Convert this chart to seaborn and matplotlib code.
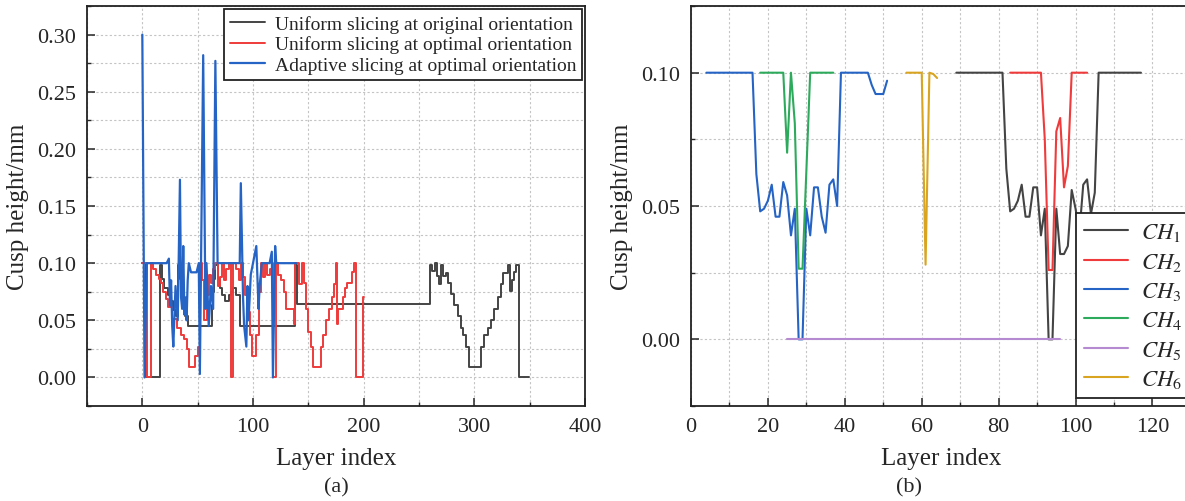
import numpy as np
import pandas as pd
import matplotlib
matplotlib.use('Agg')
import matplotlib.pyplot as plt
from matplotlib.ticker import MultipleLocator
import seaborn as sns

# ---- (a) cusp height per layer, three slicing strategies ----
# uniform slicing at original orientation (stepwise, change points)
orig_layer = [0, 3, 16, 18, 20, 23, 26, 28, 30, 32, 34, 35, 37, 39, 41, 63, 64, 65, 66, 68,
              70, 72, 75, 78, 80, 82, 85, 88, 138, 140, 260, 262, 264, 266, 268, 270, 272,
              274, 276, 279, 282, 285, 288, 290, 292, 295, 306, 309, 312, 315, 318, 321,
              324, 326, 328, 330, 332, 334, 336, 338, 340, 349]
orig_cusp = [0.10, 0.0, 0.098, 0.086, 0.078, 0.072, 0.067, 0.059, 0.054, 0.098, 0.086, 0.072,
             0.063, 0.054, 0.045, 0.063, 0.075, 0.086, 0.098, 0.086, 0.078, 0.072, 0.067,
             0.072, 0.075, 0.078, 0.072, 0.045, 0.098, 0.064, 0.098, 0.093, 0.10, 0.089,
             0.082, 0.098, 0.089, 0.091, 0.083, 0.073, 0.063, 0.054, 0.043, 0.037, 0.027,
             0.0093, 0.027, 0.037, 0.043, 0.050, 0.060, 0.070, 0.082, 0.091, 0.091, 0.098,
             0.076, 0.085, 0.092, 0.098, 0.0, 0.0]

# uniform slicing at optimal orientation (stepwise, change points)
opt_layer = [0, 4, 8, 10, 12, 15, 17, 19, 21, 23, 27, 31, 35, 38, 40, 42, 48, 50, 52, 54, 56,
             58, 60, 62, 64, 66, 68, 70, 72, 74, 76, 78, 80, 82, 85, 87, 89, 91, 93, 95, 97,
             99, 103, 105, 107, 109, 111, 113, 115, 117, 118, 121, 123, 125, 128, 130, 137,
             138, 142, 144, 146, 148, 150, 152, 154, 161, 163, 166, 169, 171, 173, 175, 176,
             177, 181, 183, 185, 189, 191, 193, 199, 200]
opt_cusp = [0.10, 0.0, 0.10, 0.095, 0.09, 0.086, 0.083, 0.075, 0.069, 0.062, 0.051, 0.043,
            0.037, 0.034, 0.025, 0.0093, 0.019, 0.027, 0.10, 0.085, 0.05, 0.072, 0.09, 0.083,
            0.095, 0.10, 0.08, 0.088, 0.10, 0.085, 0.095, 0.10, 0.0, 0.10, 0.095, 0.085, 0.10,
            0.088, 0.072, 0.057, 0.037, 0.019, 0.037, 0.075, 0.10, 0.088, 0.10, 0.09, 0.095,
            0.10, 0.0, 0.10, 0.09, 0.085, 0.075, 0.06, 0.047, 0.10, 0.082, 0.10, 0.083, 0.06,
            0.04, 0.027, 0.0093, 0.027, 0.037, 0.05, 0.06, 0.07, 0.082, 0.10, 0.047, 0.06,
            0.07, 0.078, 0.083, 0.092, 0.10, 0.0, 0.07, 0.07]

# adaptive slicing at optimal orientation
adp_layer = [0, 2, 4, 22, 24, 25, 26, 27, 28, 30, 32, 34, 35, 36, 37, 38, 39, 40, 41, 42, 44,
             49, 51, 52, 55, 57, 58, 60, 62, 64, 66, 68, 88, 89, 91, 92, 94, 95, 96, 98, 100,
             103, 105, 106, 108, 115, 117, 118, 120, 121, 139]
adp_cusp = [0.30, 0.0, 0.10, 0.10, 0.104, 0.063, 0.085, 0.045, 0.027, 0.08, 0.05, 0.173, 0.07,
            0.06, 0.115, 0.055, 0.07, 0.05, 0.085, 0.10, 0.092, 0.092, 0.10, 0.003, 0.282,
            0.06, 0.10, 0.045, 0.08, 0.06, 0.277, 0.10, 0.10, 0.17, 0.07, 0.045, 0.027, 0.08,
            0.05, 0.09, 0.10, 0.115, 0.06, 0.08, 0.10, 0.10, 0.11, 0.0, 0.115, 0.10, 0.10]

labels_a = ['Uniform slicing at original orientation',
            'Uniform slicing at optimal orientation',
            'Adaptive slicing at optimal orientation']

# ---- (b) cusp height of the six channels ----
ch1_layer = [69, 81, 82, 83, 84, 85, 86, 87, 88, 89, 90, 91, 92, 93, 94, 95, 96, 97, 98, 99,
             100, 101, 102, 103, 104, 105, 106, 117]
ch1_cusp = [0.10, 0.10, 0.064, 0.048, 0.049, 0.052, 0.058, 0.046, 0.046, 0.057, 0.057, 0.039,
            0.049, 0.0, 0.0, 0.049, 0.032, 0.032, 0.035, 0.056, 0.049, 0.040, 0.058, 0.060,
            0.047, 0.055, 0.10, 0.10]
ch2_layer = [83, 91, 92, 93, 94, 95, 96, 97, 98, 99, 103]
ch2_cusp = [0.10, 0.10, 0.075, 0.026, 0.026, 0.078, 0.083, 0.057, 0.065, 0.10, 0.10]
ch3_layer = [4, 16, 17, 18, 19, 20, 21, 22, 23, 24, 25, 26, 27, 28, 29, 30, 31, 32, 33, 34,
             35, 36, 37, 38, 39, 46, 47, 48, 50, 51]
ch3_cusp = [0.10, 0.10, 0.062, 0.048, 0.049, 0.052, 0.058, 0.046, 0.046, 0.059, 0.054, 0.039,
            0.049, 0.0, 0.0, 0.049, 0.039, 0.057, 0.057, 0.046, 0.040, 0.058, 0.060, 0.050,
            0.10, 0.10, 0.0954, 0.092, 0.092, 0.097]
ch4_layer = [18, 24, 25, 26, 27, 28, 29, 30, 31, 37]
ch4_cusp = [0.10, 0.10, 0.070, 0.10, 0.081, 0.0265, 0.0265, 0.063, 0.10, 0.10]
ch5_layer = [25, 96]
ch5_cusp = [0.0, 0.0]
ch6_layer = [56, 60, 61, 62, 63, 64]
ch6_cusp = [0.10, 0.10, 0.028, 0.10, 0.0995, 0.098]

colors_a = ['#444444', '#ef3b3b', '#2563c4']
colors_b = ['#444444', '#ef3b3b', '#2563c4', '#2eaa5c', '#b58ad0', '#d9a520']

sns.set_style('ticks')
plt.rcParams['font.family'] = ['Liberation Serif', 'DejaVu Serif']
plt.rcParams['mathtext.fontset'] = 'stix'

fig = plt.figure(figsize=(11.85, 5.02), dpi=100)
ax1 = fig.add_axes([0.0734, 0.1892, 0.4203, 0.7968])
ax2 = fig.add_axes([0.5831, 0.1892, 0.4219, 0.7968])


def style_axes(ax):
    ax.grid(which='both', color='#c4c4c4', linestyle=(0, (2, 2)), linewidth=0.8)
    ax.set_axisbelow(True)
    ax.tick_params(which='major', direction='in', length=6, width=1.1, labelsize=16,
                   top=False, right=False, pad=8)
    ax.tick_params(which='minor', direction='in', length=3, width=1.0, top=False, right=False)
    for s in ax.spines.values():
        s.set_linewidth(1.3)
        s.set_color('#222222')
    ax.set_xlabel('Layer index', fontsize=18, labelpad=8)
    ax.set_ylabel('Cusp height/mm', fontsize=18, labelpad=6)


# panel (a)
sns.lineplot(x=orig_layer, y=orig_cusp, ax=ax1, color=colors_a[0], lw=1.4,
             drawstyle='steps-post', estimator=None, label=labels_a[0])
sns.lineplot(x=opt_layer, y=opt_cusp, ax=ax1, color=colors_a[1], lw=1.4,
             drawstyle='steps-post', estimator=None, label=labels_a[1])
sns.lineplot(x=adp_layer, y=adp_cusp, ax=ax1, color=colors_a[2], lw=1.6,
             estimator=None, label=labels_a[2])
ax1.set_xlim(-50, 400)
ax1.set_ylim(-0.025, 0.325)
ax1.xaxis.set_major_locator(MultipleLocator(100))
ax1.xaxis.set_minor_locator(MultipleLocator(50))
ax1.yaxis.set_major_locator(MultipleLocator(0.05))
ax1.yaxis.set_minor_locator(MultipleLocator(0.025))
ax1.yaxis.set_major_formatter(matplotlib.ticker.FormatStrFormatter('%.2f'))
style_axes(ax1)
leg1 = ax1.legend(loc='upper right', fontsize=14, frameon=True, fancybox=False,
                  framealpha=1, edgecolor='#222222', borderaxespad=0.15, handlelength=1.8,
                  labelspacing=0.15, borderpad=0.3, handletextpad=0.5)
leg1.get_frame().set_linewidth(1.3)

# panel (b)
ch_data = [(ch1_layer, ch1_cusp), (ch2_layer, ch2_cusp), (ch3_layer, ch3_cusp),
           (ch4_layer, ch4_cusp), (ch5_layer, ch5_cusp), (ch6_layer, ch6_cusp)]
for i, (lx, cy) in enumerate(ch_data):
    sns.lineplot(x=lx, y=cy, ax=ax2, color=colors_b[i], lw=1.5, estimator=None,
                 label=r'$CH_{%d}$' % (i + 1))
ax2.set_xlim(0, 130)
ax2.set_ylim(-0.025, 0.125)
ax2.xaxis.set_major_locator(MultipleLocator(20))
ax2.xaxis.set_minor_locator(MultipleLocator(10))
ax2.yaxis.set_major_locator(MultipleLocator(0.05))
ax2.yaxis.set_minor_locator(MultipleLocator(0.025))
ax2.yaxis.set_major_formatter(matplotlib.ticker.FormatStrFormatter('%.2f'))
style_axes(ax2)
leg2 = ax2.legend(loc='lower right', bbox_to_anchor=(1.0, 0.02), fontsize=16.5,
                  frameon=True, fancybox=False, framealpha=1, edgecolor='#222222',
                  borderaxespad=0.0, handlelength=1.9, labelspacing=0.32, borderpad=0.35,
                  handletextpad=0.6)
leg2.get_frame().set_linewidth(1.3)

fig.text(0.0734 + 0.4203 / 2, 0.028, '(a)', ha='center', va='center', fontsize=16)
fig.text(0.5831 + 0.3675 / 2, 0.028, '(b)', ha='center', va='center', fontsize=16)

fig.savefig('out.png', dpi=100)
